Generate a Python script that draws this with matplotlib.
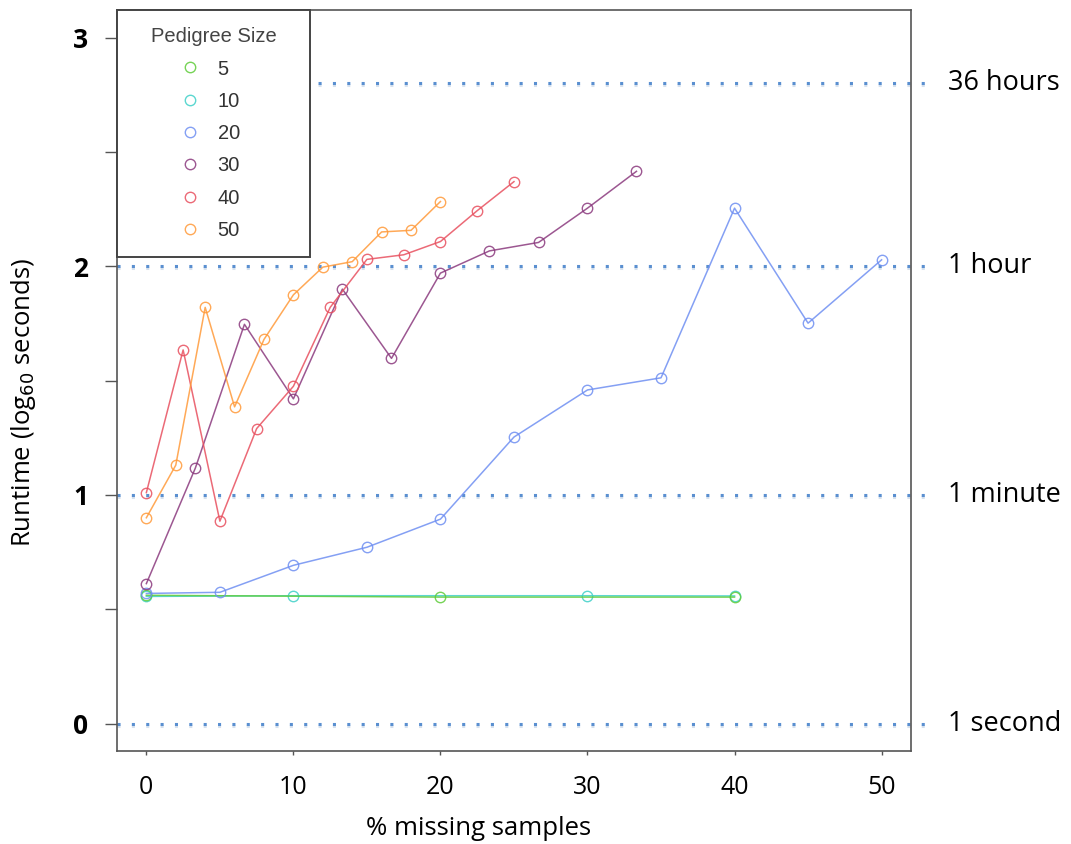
import numpy as np
import matplotlib
matplotlib.use("Agg")
import matplotlib.pyplot as plt
import matplotlib.transforms as mtransforms
import matplotlib.patheffects as pe
from matplotlib.lines import Line2D

# data (runtime in log60 seconds)
x5 = [0, 20, 40]
y5 = [0.561, 0.553, 0.553]
x10 = [0, 10, 30, 40]
y10 = [0.556, 0.559, 0.559, 0.558]
x20 = [0, 5, 10, 15, 20, 25, 30, 35, 40, 45, 50]
y20 = [0.569, 0.574, 0.692, 0.771, 0.894, 1.253, 1.459, 1.512, 2.254, 1.751, 2.028]
x30 = [0, 3.33, 6.67, 10, 13.33, 16.67, 20, 23.33, 26.67, 30, 33.33]
y30 = [0.612, 1.117, 1.746, 1.42, 1.90, 1.597, 1.97, 2.067, 2.104, 2.254, 2.415]
x40 = [0, 2.5, 5, 7.5, 10, 12.5, 15, 17.5, 20, 22.5, 25]
y40 = [1.01, 1.634, 0.885, 1.29, 1.475, 1.82, 2.03, 2.05, 2.108, 2.243, 2.37]
x50 = [0, 2, 4, 6, 8, 10, 12, 14, 16, 18, 20]
y50 = [0.90, 1.13, 1.82, 1.385, 1.68, 1.875, 1.996, 2.02, 2.15, 2.157, 2.283]

sizes = ["5", "10", "20", "30", "40", "50"]
colors = ["#5fcc3a", "#3fd0c8", "#6f8ff2", "#8b3a7e", "#e8505f", "#ff9a3a"]

ref_levels = [2.8, 2, 1, 0]
ref_labels = ["36 hours", "1 hour", "1 minute", "1 second"]

FONT = "Open Sans"

fig = plt.figure(figsize=(10.71, 8.44), dpi=100)
ax = fig.add_axes([0.1092, 0.1102, 0.7414, 0.8778])

series = [(x10, y10, 1), (x5, y5, 0), (x20, y20, 2), (x30, y30, 3),
          (x40, y40, 4), (x50, y50, 5)]
for xs, ys, i in series:
    ax.plot(xs, ys, color=colors[i], lw=1.1, alpha=0.85, marker="o",
            markersize=7.5, markerfacecolor="none", markeredgewidth=1.0,
            zorder=3)

# dotted reference lines running out past the right spine
trans = mtransforms.blended_transform_factory(ax.transAxes, ax.transData)
for lvl, lab in zip(ref_levels, ref_labels):
    ax.plot([0, 1.028], [lvl, lvl], transform=trans, clip_on=False,
            color="#5a8fd0", lw=2.2, linestyle=(0, (1, 3.7)),
            dash_capstyle="butt", zorder=2,
            path_effects=[pe.SimpleLineShadow(offset=(0, -1.5), shadow_color="#8aaad0", alpha=0.35),
                          pe.Normal()])
    ax.text(1.0466, lvl, lab, transform=trans, ha="left", va="center",
            fontsize=19.5, family=FONT, color="black")

ax.set_xlim(-2, 52)
ax.set_ylim(-0.12, 3.12)

ax.set_xticks([0, 10, 20, 30, 40, 50])
ax.set_xticklabels(["0", "10", "20", "30", "40", "50"], family=FONT, fontsize=18)
ax.set_yticks(np.arange(0, 3.01, 0.5))
ax.set_yticklabels(["0", "", "1", "", "2", "", "3"], family=FONT,
                   fontsize=19, fontweight="bold")
ax.tick_params(axis="x", length=3, width=1, color="#555555", pad=14)
ax.tick_params(axis="y", length=8.6, width=1, color="#555555", pad=12)

for sp in ax.spines.values():
    sp.set_color("#555555")
    sp.set_linewidth(1.2)

ax.set_xlabel("% missing samples", family=FONT, fontsize=18.5)
ax.xaxis.set_label_coords(0.455, -0.088)
ax.set_ylabel("Runtime (log$_{60}$ seconds)", family=FONT, fontsize=18.5)
ax.yaxis.set_label_coords(-0.1, 0.47)

handles = [Line2D([], [], color=c, marker="o", linestyle="none", markersize=7.5,
                  markerfacecolor="none", markeredgewidth=1.0, alpha=0.85)
           for c in colors]
leg = ax.legend(handles, sizes, title="Pedigree Size", loc="upper left",
                bbox_to_anchor=(0, 1, 0.243, 0), mode="expand", borderaxespad=0,
                prop={"family": "Liberation Sans", "size": 14.5},
                title_fontproperties={"family": "Liberation Sans", "size": 14.5},
                frameon=True, fancybox=False, framealpha=1, edgecolor="#444444",
                borderpad=0.85, handlelength=5.6, handletextpad=-1.45,
                labelspacing=0.66)
leg.get_frame().set_linewidth(1.4)
leg.get_title().set_color("#444444")
for t in leg.get_texts():
    t.set_color("#333333")
leg.set_zorder(5)

fig.savefig("out.png", dpi=100)
